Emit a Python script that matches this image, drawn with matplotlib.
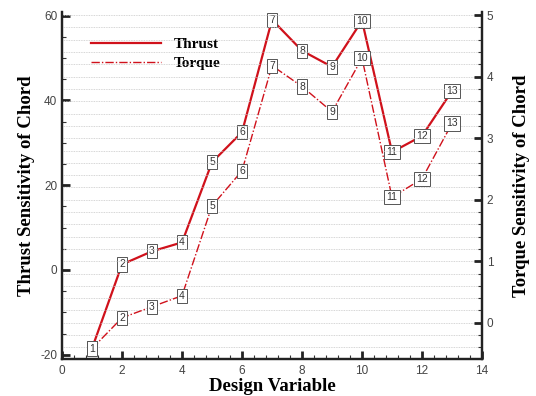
import numpy as np
import matplotlib
matplotlib.use('Agg')
import matplotlib.pyplot as plt
from matplotlib.ticker import MultipleLocator

plt.rcParams['axes.unicode_minus'] = False

design_var = [1, 2, 3, 4, 5, 6, 7, 8, 9, 10, 11, 12, 13]
thrust = [-18.5, 1.3, 4.4, 6.5, 25.4, 32.5, 59.0, 51.7, 47.9, 58.8, 27.8, 31.6, 42.2]
torque = [-0.42, 0.08, 0.26, 0.44, 1.9, 2.47, 4.18, 3.84, 3.43, 4.3, 2.04, 2.34, 3.24]

red = '#d0111b'
serif = 'Liberation Serif'
sans = 'Liberation Sans'

fig = plt.figure(figsize=(5.36, 3.96), dpi=100)
ax = fig.add_axes([0.1157, 0.0934, 0.7836, 0.876])
ax2 = ax.twinx()

ax.set_xlim(0, 14)
ax.set_ylim(-21, 60.8)
ax2.set_ylim(-0.59, 5.05)

# grid lines (dotted, light)
for y in np.arange(-0.4, 5.01, 0.2):
    ax2.axhline(y, color='#c8c8c8', lw=0.6, ls=(0, (1, 1)), zorder=0)

l1, = ax.plot(design_var, thrust, color=red, lw=1.6, label='Thrust', zorder=3)
l2, = ax2.plot(design_var, torque, color=red, lw=1.0, ls=(0, (6, 1.5, 1, 1.5)),
               label='Torque', zorder=3)

bbox = dict(boxstyle='square,pad=0.2', fc='white', ec='#555555', lw=0.7)
for x, y in zip(design_var, thrust):
    ax.text(x, y, str(x), ha='center', va='center', fontsize=7.5, family=sans,
            color='#333333', bbox=bbox, zorder=4)
for x, y in zip(design_var, torque):
    ax2.text(x, y, str(x), ha='center', va='center', fontsize=7.5, family=sans,
             color='#333333', bbox=bbox, zorder=4)

ax.xaxis.set_major_locator(MultipleLocator(2))
ax.xaxis.set_minor_locator(MultipleLocator(0.4))
ax.yaxis.set_major_locator(MultipleLocator(20))
ax.yaxis.set_minor_locator(MultipleLocator(5))
ax2.yaxis.set_major_locator(MultipleLocator(1))
ax2.yaxis.set_minor_locator(MultipleLocator(0.2))

for a in (ax, ax2):
    a.tick_params(which='major', direction='in', length=6, width=2, colors='#222222',
                  labelcolor='#444444', labelsize=8.5)
    a.tick_params(which='minor', direction='in', length=3, width=0.8, colors='#333333')
    for s in a.spines.values():
        s.set_linewidth(1.6)
        s.set_color('#222222')
    a.spines['top'].set_visible(False)
    for lab in a.get_xticklabels() + a.get_yticklabels():
        lab.set_family(sans)
ax.tick_params(axis='x', which='both', top=False)
ax.tick_params(axis='x', pad=4)

ax.set_xlabel('Design Variable', family=serif, fontweight='bold', fontsize=13.5, labelpad=1)
ax.set_ylabel('Thrust Sensitivity of Chord', family=serif, fontweight='bold', fontsize=13.5,
              labelpad=4)
ax2.set_ylabel('Torque Sensitivity of Chord', family=serif, fontweight='bold', fontsize=13.5,
               labelpad=14)

leg = ax.legend([l1, l2], ['Thrust', 'Torque'], loc='upper left', frameon=False,
                handlelength=4.6, handletextpad=0.8, borderaxespad=0.4,
                labelspacing=0.35, bbox_to_anchor=(0.04, 0.962),
                prop={'family': serif, 'weight': 'bold', 'size': 11})

fig.savefig('out.png', dpi=100)
